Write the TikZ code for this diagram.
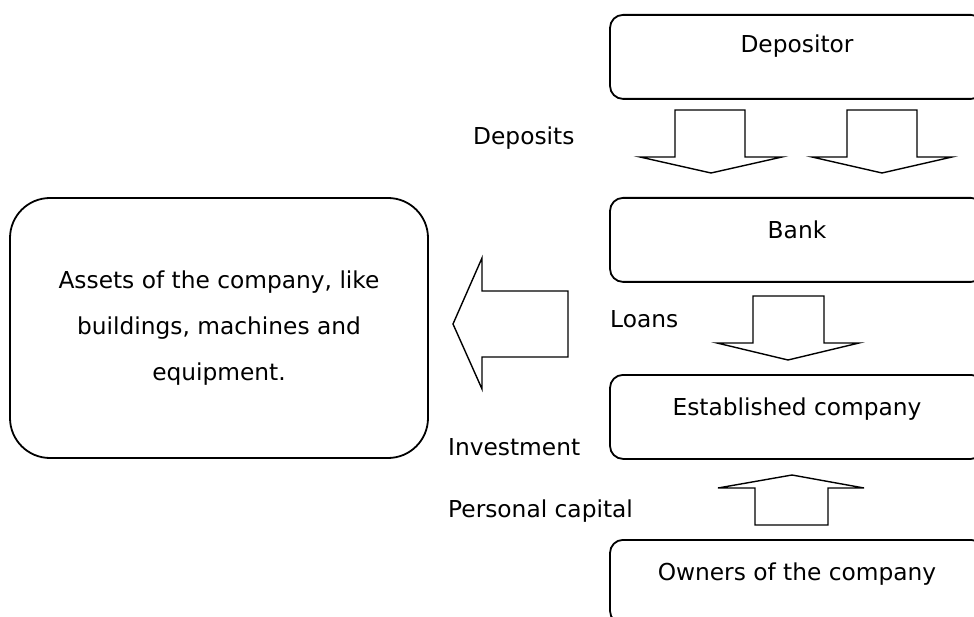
\documentclass[tikz,border=0pt]{standalone}
\usepackage{fontspec}
\setmainfont{DejaVu Sans}
\tikzset{
  flowbox/.style={draw, rounded corners=13pt, line width=1.8pt, minimum width=374pt,
    minimum height=84pt, anchor=north, text height=17pt, text depth=20pt, inner sep=0pt},
  assetbox/.style={draw, rounded corners=40pt, line width=1.8pt, minimum width=418pt,
    minimum height=260pt, align=center, font=\fontsize{23.3}{46}\selectfont},
  blockarrow/.style={draw, line width=1.4pt, line join=miter},
  lbl/.style={anchor=base west, inner sep=0pt}
}
\begin{document}
\begin{tikzpicture}[x=1pt, y=-1pt, font=\fontsize{23.3}{28}\selectfont]
\clip (0,0) rectangle (974,617);

\node[flowbox, text depth=26pt] (depositor) at (797,14) {Depositor};
\node[flowbox] (bank) at (797,197) {Bank};
\node[flowbox] (company) at (797,374) {Established company};
\node[flowbox] (owners) at (797,539) {Owners of the company};
\node[assetbox] (assets) at (219,328) {Assets of the company, like\\buildings, machines and\\equipment.};

% deposits
\draw[blockarrow] (675,110) -- (745,110) -- (745,157) -- (782,157) -- (711,173) -- (640,157) -- (675,157) -- cycle;
\draw[blockarrow] (847,110) -- (917,110) -- (917,157) -- (952,157) -- (882,173) -- (812,157) -- (847,157) -- cycle;
% loans
\draw[blockarrow] (753,296) -- (824,296) -- (824,343) -- (859,343) -- (788,360) -- (717,343) -- (753,343) -- cycle;
% personal capital
\draw[blockarrow] (755,525) -- (828,525) -- (828,488) -- (864,488) -- (792,475) -- (718,488) -- (755,488) -- cycle;
% investment
\draw[blockarrow] (568,291) -- (568,357) -- (482,357) -- (482,389) -- (453,324) -- (482,258) -- (482,291) -- cycle;

\node[lbl] (deposits) at (473,144.5) {Deposits};
\node[lbl] (loans) at (610,328) {Loans};
\node[lbl] (investment) at (448,455.5) {Investment};
\node[lbl] (capital) at (448,517) {Personal capital};
\end{tikzpicture}
\end{document}
